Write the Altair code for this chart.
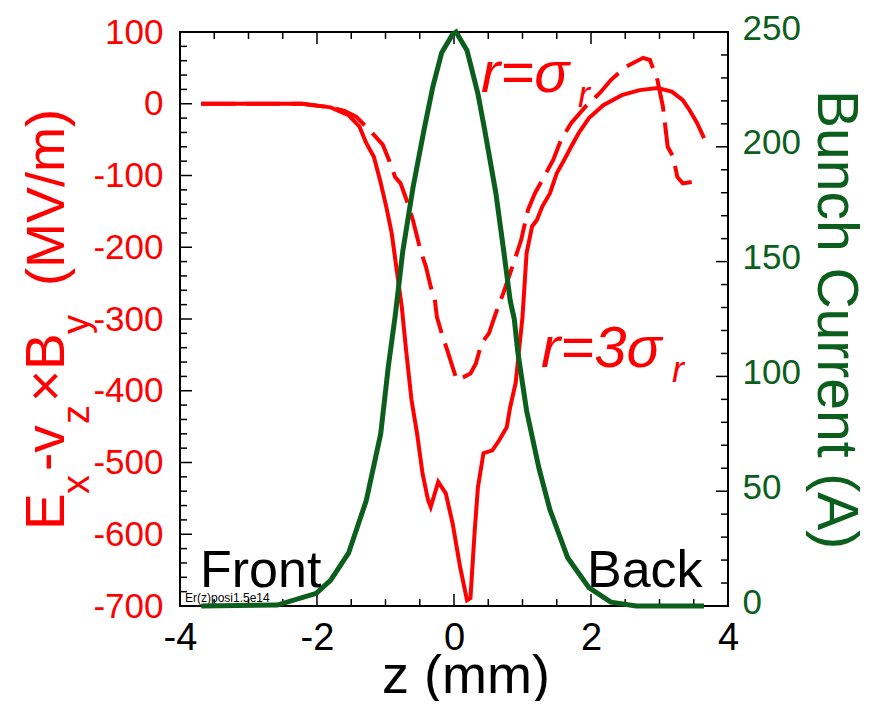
import altair as alt
import pandas as pd

# ---- data ----
z_solid = [-3.69, -2.22, -1.80, -1.54, -1.38, -1.28, -1.17, -1.07, -0.99, -0.91, -0.83, -0.76, -0.70,
           -0.62, -0.54, -0.46, -0.38, -0.34, -0.23, -0.12, -0.02, 0.09, 0.19, 0.24, 0.30, 0.35, 0.43,
           0.56, 0.66, 0.77, 0.82, 0.90, 0.95, 1.00, 1.06, 1.14, 1.21, 1.29, 1.40, 1.50, 1.61, 1.71,
           1.82, 1.97, 2.18, 2.45, 2.71, 2.97, 3.18, 3.34, 3.44, 3.55, 3.65]
e_solid = [0, 0, -5, -16, -32, -55, -74, -110, -143, -180, -236, -285, -343, -413, -459, -515, -552,
           -562, -527, -543, -585, -646, -692, -689, -598, -534, -487, -483, -469, -451, -423, -389,
           -343, -297, -208, -171, -162, -143, -125, -97, -78, -60, -41, -20, -2, 12, 19, 22, 17, 5,
           -9, -27, -48]

z_dash = [-3.69, -2.22, -1.80, -1.60, -1.43, -1.23, -1.04, -0.93, -0.86, -0.78, -0.70, -0.60, -0.49,
          -0.41, -0.34, -0.28, -0.25, -0.18, -0.10, 0.04, 0.14, 0.24, 0.32, 0.40, 0.51, 0.61, 0.72,
          0.82, 0.87, 0.98, 1.08, 1.18, 1.29, 1.45, 1.56, 1.71, 1.92, 2.13, 2.29, 2.50, 2.76, 2.86,
          2.97, 3.05, 3.12, 3.20, 3.26, 3.34, 3.47]
e_dash = [0, 0, -5, -10, -18, -37, -57, -83, -102, -111, -132, -162, -204, -227, -255, -273, -297,
          -320, -343, -385, -381, -376, -362, -334, -320, -292, -264, -236, -222, -190, -148, -125,
          -106, -78, -51, -27, -4, 15, 33, 51, 64, 61, 33, -4, -60, -74, -102, -111, -109]

z_cur = [-3.69, -2.58, -2.01, -1.80, -1.54, -1.28, -1.07, -0.96, -0.86, -0.75, -0.60, -0.44, -0.31,
         -0.18, -0.02, 0.03, 0.19, 0.35, 0.45, 0.61, 0.72, 0.82, 0.88, 0.93, 1.06, 1.24, 1.40, 1.66,
         1.97, 2.29, 2.66, 3.65]
i_cur = [0, 0.4, 5.5, 11.3, 23, 46, 75, 104, 126, 154, 182, 207, 226, 241, 249, 250, 242, 223, 207,
         180, 156, 133, 125, 111, 85, 60, 42, 21, 8, 1.7, 0, 0]

x_labels = [-4, -2, 0, 2, 4]
yl_labels = [-700, -600, -500, -400, -300, -200, -100, 0, 100]
yr_labels = [0, 50, 100, 150, 200, 250]
x_major_ticks = [-2, 0, 2]
x_minor_ticks = [-3.5, -3, -2.5, -1.5, -1, -0.5, 0.5, 1, 1.5, 2.5, 3, 3.5]
yl_major_ticks = [-600, -500, -400, -300, -200, -100, 0]
yl_minor_ticks = [v for v in range(-680, 100, 20) if v % 100 != 0]
yr_major_ticks = [50, 100, 150, 200]
yr_minor_ticks = [v for v in range(10, 250, 10) if v % 50 != 0]

# ---- styling ----
W, H = 548, 574
RED = "#ff0000"
GREEN = "#0b5e1c"
FONT = "Liberation Sans"
MAJ, MIN = 12, 7
HYPHEN = "datum.value < 0 ? '-' + abs(datum.value) : '' + datum.value"

xscale = alt.Scale(domain=[-4, 4], nice=False, zero=False)
ylscale = alt.Scale(domain=[-700, 100], nice=False, zero=False)
yrscale = alt.Scale(domain=[0, 250], nice=False, zero=False)

xaxis = alt.Axis(values=x_labels, title=None, grid=False, domain=False, ticks=False, tickSize=0,
                 labelFontSize=38, labelFont=FONT, labelColor="black", labelPadding=13,
                 labelFlush=False, labelOverlap=False, labelExpr=HYPHEN)
ylaxis = alt.Axis(values=yl_labels, title=None, grid=False, domain=False, ticks=False, tickSize=0,
                  labelFontSize=35, labelFont=FONT, labelColor=RED, labelPadding=17,
                  labelOverlap=False, orient="left", labelExpr=HYPHEN)
yraxis = alt.Axis(values=yr_labels, title=None, grid=False, domain=False, ticks=False, tickSize=0,
                  labelFontSize=35, labelFont=FONT, labelColor=GREEN, labelPadding=14,
                  labelOverlap=False, orient="right", labelOffset=-4)

X = alt.X("z:Q", scale=xscale, axis=xaxis)

df_solid = pd.DataFrame({"z": z_solid, "E": e_solid})
df_dash = pd.DataFrame({"z": z_dash, "E": e_dash})
df_cur = pd.DataFrame({"z": z_cur, "I": i_cur})

solid = alt.Chart(df_solid).mark_line(color=RED, strokeWidth=4).encode(
    x=X, y=alt.Y("E:Q", scale=ylscale, axis=ylaxis))
dash = alt.Chart(df_dash).mark_line(color=RED, strokeWidth=4, strokeDash=[34, 11]).encode(
    x=X, y=alt.Y("E:Q", scale=ylscale, axis=ylaxis))
green = alt.Chart(df_cur).mark_line(color=GREEN, strokeWidth=5).encode(
    x=X, y=alt.Y("I:Q", scale=yrscale, axis=yraxis))


def xticks(vals, length, top):
    d = pd.DataFrame({"z": vals})
    if top:
        yy = dict(y=alt.value(0), y2=alt.value(length))
    else:
        yy = dict(y=alt.value(H), y2=alt.value(H - length))
    return alt.Chart(d).mark_rule(color="black", strokeWidth=1.5).encode(x=X, **yy)


def lticks(vals, length):
    d = pd.DataFrame({"E": vals})
    return alt.Chart(d).mark_rule(color="black", strokeWidth=1.5).encode(
        y=alt.Y("E:Q", scale=ylscale, axis=ylaxis), x=alt.value(0), x2=alt.value(length))


def rticks(vals, length):
    d = pd.DataFrame({"I": vals})
    return alt.Chart(d).mark_rule(color="black", strokeWidth=1.5).encode(
        y=alt.Y("I:Q", scale=yrscale, axis=yraxis), x=alt.value(W - length), x2=alt.value(W))


def txt(s, px, py, size, color="black", angle=0, style="normal", align="left"):
    d = pd.DataFrame({"t": [s]})
    kw = dict(font=FONT, fontSize=size, color=color, align=align, baseline="alphabetic",
              fontStyle=style)
    if angle:
        kw["angle"] = angle
    return alt.Chart(d).mark_text(**kw).encode(
        text="t:N", x=alt.value(px - 180), y=alt.value(py - 32))


texts = [
    # left title  E_x - v_z x B_y (MV/m)
    txt("E", 64, 530, 55, RED, 270),
    txt("x", 89, 494, 38, RED, 270),
    txt("-v", 64, 471, 55, RED, 270),
    txt("z", 89, 424, 38, RED, 270),
    txt("\u00d7B", 64, 402, 55, RED, 270),
    txt("y", 89, 334, 38, RED, 270),
    txt("(MV/m)", 64, 286, 54, RED, 270),
    # right title
    txt("Bunch Current (A)", 818, 90, 57, GREEN, 90),
    # x title
    txt("z (mm)", 466, 693, 54, "black", 0, "normal", "center"),
    # curve labels
    txt("r=\u03c3", 481, 92, 58, RED, 0, "italic"),
    txt("r", 578, 107, 36, RED, 0, "italic"),
    txt("r=3\u03c3", 541, 367, 58, RED, 0, "italic"),
    txt("r", 672, 382, 36, RED, 0, "italic"),
    txt("Front", 200, 587, 52),
    txt("Back", 587, 587, 52),
    txt("Er(z)posi1.5e14", 185, 602, 12),
]

left = alt.layer(
    solid, dash,
    xticks(x_major_ticks, MAJ, False), xticks(x_minor_ticks, MIN, False),
    xticks(x_major_ticks, MAJ, True), xticks(x_minor_ticks, MIN, True),
    lticks(yl_major_ticks, MAJ), lticks(yl_minor_ticks, MIN),
    *texts,
)
right = alt.layer(green, rticks(yr_major_ticks, MAJ), rticks(yr_minor_ticks, MIN))

chart = alt.layer(left, right).resolve_scale(y="independent").properties(
    width=W, height=H,
    padding={"left": 172, "top": 24, "right": 140, "bottom": 95},
    autosize=alt.AutoSizeParams(type="none"),
).configure_view(stroke="black", strokeWidth=2)

chart.save("out.html", embed_options={"renderer": "svg", "actions": False})
